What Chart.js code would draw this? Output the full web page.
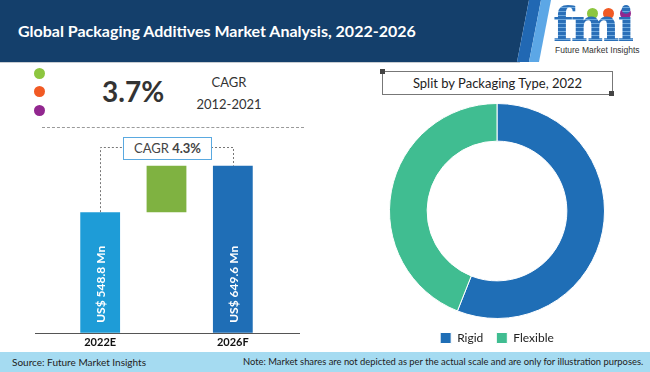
<!DOCTYPE html>
<html>
<head>
<meta charset="utf-8">
<script src="https://cdn.jsdelivr.net/npm/chart.js@4.4.0/dist/chart.umd.min.js"></script>
<style>
  body { margin: 0; width: 650px; height: 372px; overflow: hidden; background: #fff; position: relative; font-family: Lato, "Open Sans", sans-serif; }
  .abs { position: absolute; }
  .hdr-dark { left: 0; top: 0; width: 560px; height: 62px; background: #143f6b; clip-path: polygon(0 0, 529px 0, 517px 62px, 0 62px); }
  .hdr-mid { left: 0; top: 0; width: 560px; height: 62px; background: #2168b3; clip-path: polygon(529px 0, 541px 0, 529px 62px, 517px 62px); }
  .hdr-light { left: 0; top: 0; width: 560px; height: 62px; background: #5ca7e6; clip-path: polygon(541px 0, 551px 0, 539px 62px, 529px 62px); }
  .hdr-line { left: 0; top: 62px; width: 520px; height: 1px; background: #c8cdd2; }
  .title { left: 18px; top: 21px; color: #fff; font-weight: bold; font-size: 16px; white-space: nowrap; }
  .logo { left: 553px; top: 4px; font-family: "DejaVu Serif", serif; font-weight: bold; font-size: 46px; line-height: 42px; letter-spacing: -2px;
          background: repeating-linear-gradient(180deg, #2a6fb8 0 3px, #6fa9de 3px 4px); -webkit-background-clip: text; background-clip: text; color: transparent; }
  .logo-sub { left: 555px; top: 45px; font-family: "Liberation Sans", sans-serif; font-size: 8.5px; color: #333; white-space: nowrap; }
  .ldot { width: 11px; height: 11px; border-radius: 50%; }
  .big { left: 102px; top: 74px; font-size: 28px; font-weight: bold; color: #333; }
  .small { font-size: 13px; color: #333; width: 80px; text-align: center; }
  .dash { left: 42px; top: 127px; width: 262px; border-top: 1px dashed #9a9a9a; }
  .cagr-box { left: 123px; top: 137px; width: 87px; height: 21px; border: 1px solid #5aa9e0; background: #fff; font-size: 13px; color: #444;
              text-align: center; line-height: 21px; }
  .split-box { left: 382px; top: 71px; width: 229px; height: 22px; border: 1px solid #777; font-size: 13px; color: #222; text-align: center; line-height: 22px; }
  .corner { width: 5px; height: 5px; background: #444; }
  .footer { left: 0; top: 352px; width: 650px; height: 20px; background: #a5dbf1; color: #222; line-height: 20px; white-space: nowrap; }
</style>
</head>
<body>
<div class="abs hdr-dark"></div>
<div class="abs hdr-mid"></div>
<div class="abs hdr-light"></div>
<div class="abs hdr-line"></div>
<div class="abs title">Global Packaging Additives Market Analysis, 2022-2026</div>
<div class="abs ldot" style="left:587px;top:8px;background:#8dc63f"></div>
<div class="abs ldot" style="left:603px;top:8px;background:#f15a24"></div>
<div class="abs ldot" style="left:620px;top:8px;background:#92278f"></div>
<div class="abs logo">fmi</div>
<div class="abs logo-sub">Future Market Insights</div>

<div class="abs ldot" style="left:34px;top:68px;background:#8dc63f"></div>
<div class="abs ldot" style="left:34px;top:86px;background:#f15a24"></div>
<div class="abs ldot" style="left:34px;top:105px;background:#92278f"></div>
<div class="abs big">3.7%</div>
<div class="abs small" style="left:189px;top:74px">CAGR</div>
<div class="abs small" style="left:189px;top:96px">2012-2021</div>
<div class="abs dash"></div>

<canvas id="barChart" class="abs" width="265" height="222" style="left:35px;top:130px"></canvas>
<div class="abs cagr-box">CAGR <b>4.3%</b></div>

<div class="abs split-box">Split by Packaging Type, 2022</div>
<div class="abs corner" style="left:380px;top:69px"></div>
<div class="abs corner" style="left:609px;top:91px"></div>
<canvas id="donutChart" class="abs" width="216" height="251" style="left:389px;top:103px"></canvas>

<div class="abs footer">
  <span class="abs" style="left:12px;font-size:10px">Source: Future Market Insights</span>
  <span class="abs" style="left:243px;font-size:9.4px">Note: Market shares are not depicted as per the actual scale and are only for illustration purposes.</span>
</div>

<script>
// data
const years = ['2022E', '', '2026F'];
const marketStart = 548.8;   // US$ Mn, 2022E
const marketEnd = 649.6;     // US$ Mn, 2026F
const valueLabels = ['US$ 548.8 Mn', '', 'US$ 649.6 Mn'];
const barColors = ['#1e9cd7', '#7fb241', '#1f6eb6'];

const packTypes = ['Rigid', 'Flexible'];
const packShares = [56, 44];
const packColors = ['#1f6eb6', '#40bd91'];

Chart.defaults.font.family = 'Lato, "Open Sans", sans-serif';

// etiquetas, linea base y conectores
const barExtras = {
    id: 'barExtras',
    afterDatasetsDraw(chart) {
        const ctx = chart.ctx;
        const area = chart.chartArea;
        const bars = chart.getDatasetMeta(0).data;
        ctx.save();
        ctx.strokeStyle = '#555';
        ctx.lineWidth = 1;
        ctx.beginPath();
        ctx.moveTo(0, Math.round(area.bottom) + 0.5);
        ctx.lineTo(chart.width, Math.round(area.bottom) + 0.5);
        ctx.stroke();

        ctx.fillStyle = '#fff';
        ctx.font = 'bold 12px Lato';
        ctx.textAlign = 'left';
        ctx.textBaseline = 'middle';
        valueLabels.forEach((txt, i) => {
            if (!txt) return;
            const b = bars[i];
            const bottom = Math.min(b.base, area.bottom);
            ctx.save();
            ctx.translate(b.x + 1, bottom - 10);
            ctx.rotate(-Math.PI / 2);
            ctx.fillText(txt, 0, 0);
            ctx.restore();
        });

        // lineas punteadas hacia la caja CAGR
        const lineY = 17.5;
        const boxHalf = 44.5;
        ctx.strokeStyle = '#777';
        ctx.setLineDash([2, 2]);
        ctx.beginPath();
        ctx.moveTo(Math.round(bars[0].x) + 0.5, bars[0].y);
        ctx.lineTo(Math.round(bars[0].x) + 0.5, lineY);
        ctx.lineTo(bars[1].x - boxHalf, lineY);
        ctx.moveTo(bars[1].x + boxHalf, lineY);
        ctx.lineTo(Math.round(bars[2].x) + 0.5, lineY);
        ctx.lineTo(Math.round(bars[2].x) + 0.5, bars[2].y);
        ctx.stroke();
        ctx.restore();
    }
};

new Chart(document.getElementById('barChart'), {
    type: 'bar',
    data: {
        labels: years,
        datasets: [{
            data: [marketStart, [marketStart, marketEnd], marketEnd],
            backgroundColor: barColors,
            categoryPercentage: 1,
            barPercentage: 0.6
        }]
    },
    options: {
        responsive: false,
        animation: false,
        layout: { padding: { left: 32, right: 34, top: 0, bottom: 0 } },
        plugins: { legend: { display: false }, tooltip: { enabled: false } },
        scales: {
            x: {
                grid: { display: false, drawTicks: false },
                border: { display: false },
                ticks: { color: '#111', font: { size: 11, weight: 'bold' }, padding: 3 }
            },
            y: { display: false, min: 287, max: 727 }
        }
    },
    plugins: [barExtras]
});

new Chart(document.getElementById('donutChart'), {
    type: 'doughnut',
    data: {
        labels: packTypes,
        datasets: [{
            data: packShares,
            backgroundColor: packColors,
            borderColor: '#fff',
            borderWidth: 1
        }]
    },
    options: {
        responsive: false,
        animation: false,
        cutout: '65%',
        plugins: {
            tooltip: { enabled: false },
            legend: {
                position: 'bottom',
                labels: { boxWidth: 11, boxHeight: 11, padding: 13, color: '#222', font: { size: 12 } }
            }
        }
    }
});
</script>
</body>
</html>
